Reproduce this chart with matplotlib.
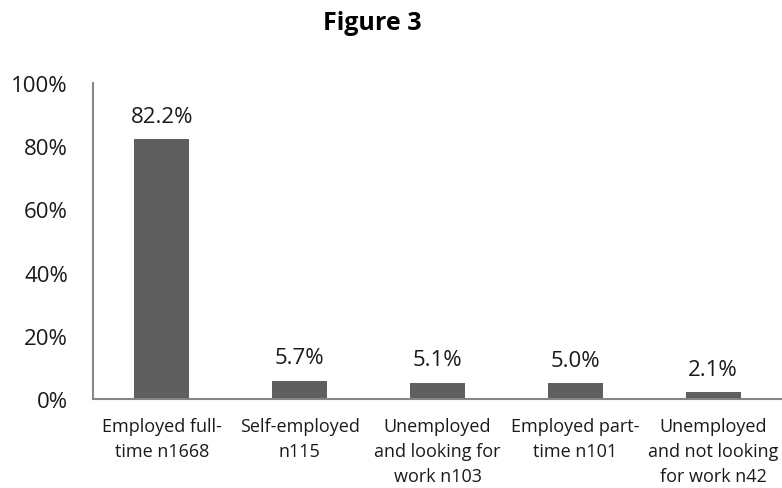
import matplotlib.pyplot as plt

categories = [
    "Employed full-\ntime n1668",
    "Self-employed\nn115",
    "Unemployed\nand looking for\nwork n103",
    "Employed part-\ntime n101",
    "Unemployed\nand not looking\nfor work n42",
]
shares = [82.2, 5.7, 5.1, 5.0, 2.1]
y_ticks = [0, 20, 40, 60, 80, 100]

plt.rcParams["font.family"] = ["Open Sans", "DejaVu Sans"]

fig = plt.figure(figsize=(7.82, 4.89), dpi=100)
ax = fig.add_axes([93 / 782, 89 / 489, 689 / 782, 316 / 489])

x = range(len(shares))
bars = ax.bar(x, shares, width=0.4, color="#5f5f5f")

# percentage labels above each bar
for rect, v in zip(bars, shares):
    ax.annotate(f"{v:.1f}%", (rect.get_x() + rect.get_width() / 2, v),
                xytext=(0, 9), textcoords="offset points",
                ha="center", va="bottom", fontsize=16, color="#1a1a1a")

ax.set_xlim(-0.5, len(shares) - 0.5)
ax.set_ylim(0, 100)
ax.set_yticks(y_ticks)
ax.set_yticklabels([f"{t}%" for t in y_ticks], fontsize=16, color="#1a1a1a")
ax.set_xticks(list(x))
ax.set_xticklabels(categories, fontsize=13, color="#1a1a1a", linespacing=1.5)
ax.tick_params(axis="y", length=0, pad=18)
ax.tick_params(axis="x", length=0, pad=13)

for side in ["top", "right"]:
    ax.spines[side].set_visible(False)
for side in ["left", "bottom"]:
    ax.spines[side].set_color("#868686")
    ax.spines[side].set_linewidth(1.5)

fig.text(372 / 782, 1 - 23 / 489, "Figure 3", ha="center", va="center",
         fontsize=18, fontweight="bold", color="#000000")

fig.savefig("out.png", dpi=100)
plt.close(fig)
